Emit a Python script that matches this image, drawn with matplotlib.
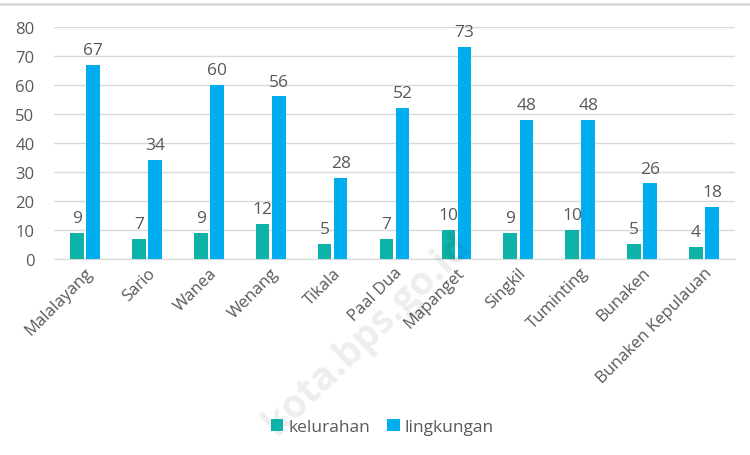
import matplotlib.pyplot as plt
import matplotlib.lines as mlines
import numpy as np

plt.rcParams['font.family'] = ['Open Sans', 'DejaVu Sans']

kecamatan = ['Malalayang', 'Sario', 'Wanea', 'Wenang', 'Tikala', 'Paal Dua',
             'Mapanget', 'Singkil', 'Tuminting', 'Bunaken', 'Bunaken Kepulauan']
kelurahan = [9, 7, 9, 12, 5, 7, 10, 9, 10, 5, 4]
lingkungan = [67, 34, 60, 56, 28, 52, 73, 48, 48, 26, 18]

c_kel = '#0DB3A9'
c_lin = '#00AEEF'
txt = '#595959'

fig = plt.figure(figsize=(7.5, 4.56), dpi=100)
ax = fig.add_axes([0.072, 0.43, 0.908, 0.509])

x = np.arange(len(kecamatan))
w = 0.22
b1 = ax.bar(x - 0.13, kelurahan, w, color=c_kel, label='kelurahan', zorder=3)
b2 = ax.bar(x + 0.13, lingkungan, w, color=c_lin, label='lingkungan', zorder=3)
ax.bar_label(b1, padding=5, color=txt, fontsize=12.5)
ax.bar_label(b2, padding=5, color=txt, fontsize=12.5)

ax.set_ylim(0, 80)
ax.set_yticks(range(0, 81, 10))
ax.set_xlim(-0.5, len(kecamatan) - 0.5)
ax.grid(axis='y', color='#D9D9D9', linewidth=1, zorder=0)
for s in ['top', 'right', 'left']:
    ax.spines[s].set_visible(False)
ax.spines['bottom'].set_color('#D9D9D9')
ax.tick_params(axis='both', length=0, colors=txt, labelsize=12)
ax.tick_params(axis='y', pad=14)
ax.tick_params(axis='x', pad=4)
ax.set_xticks(x)
ax.set_xticklabels(kecamatan, rotation=45, ha='right', rotation_mode='anchor')
for lab in ax.get_xticklabels():
    lab.set_color(txt)

fig.legend(handles=[b1, b2], loc='center', bbox_to_anchor=(0.51, 0.062), ncol=2,
           frameon=False, fontsize=12.5, labelcolor=txt, handlelength=0.7,
           handleheight=0.7, handletextpad=0.3, columnspacing=1.0)

# watermark
fig.text(0.49, 0.265, 'kota.bps.go.id', fontsize=28, fontweight='bold',
         color='#000000', alpha=0.07, rotation=44, ha='center', va='center')

# top border line
fig.add_artist(mlines.Line2D([0.0, 1.0], [0.99, 0.99], transform=fig.transFigure,
                             color='#D9D9D9', linewidth=2))

fig.savefig('out.png', dpi=100)
